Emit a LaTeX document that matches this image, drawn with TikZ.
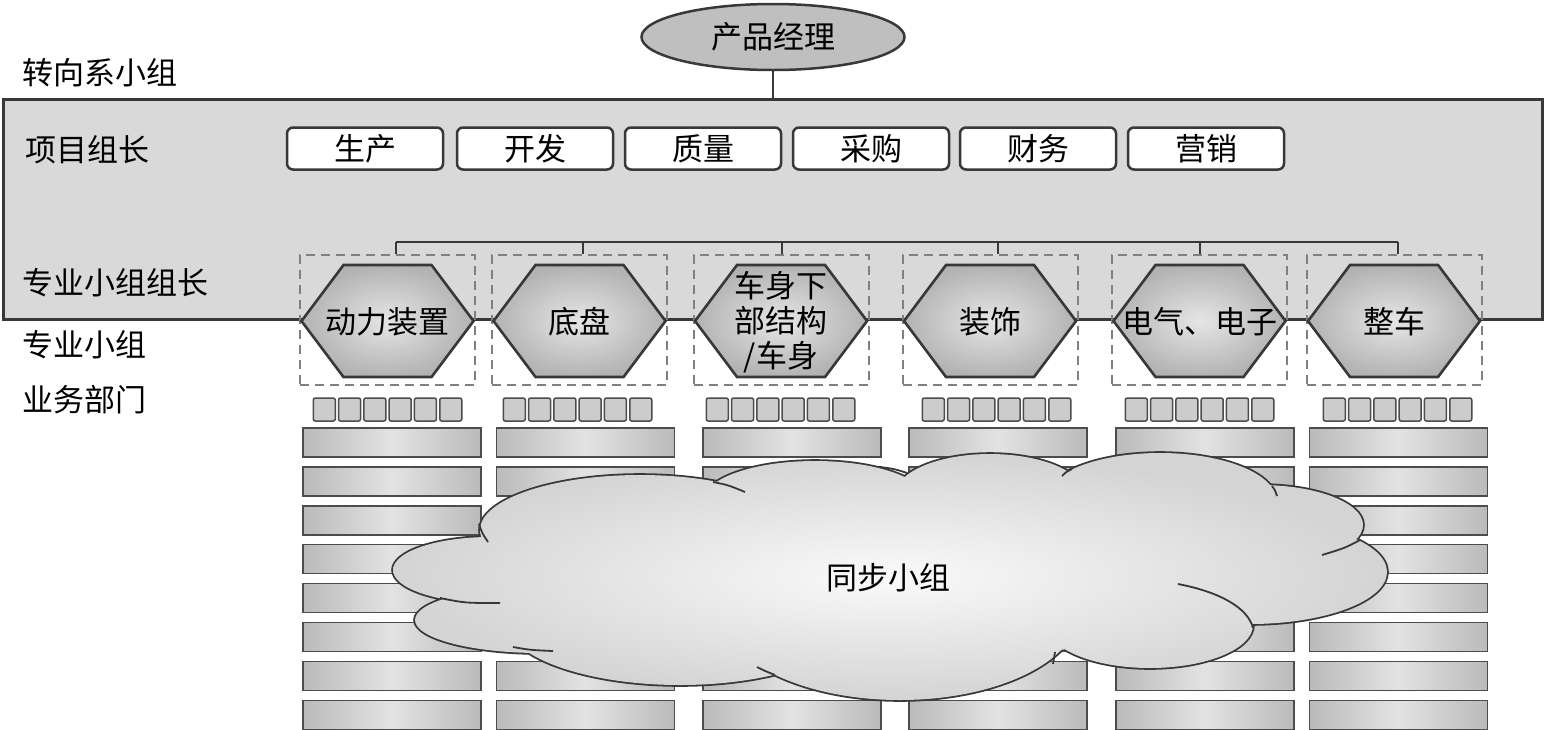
\documentclass[tikz,border=0pt]{standalone}
\usepackage{fontspec}
\newfontfamily\cjk{Noto Sans CJK SC}
\usetikzlibrary{shapes.geometric}
\definecolor{edge}{gray}{0.22}
\definecolor{dashc}{gray}{0.5}
\begin{document}
\begin{tikzpicture}[x=1pt,y=-1pt,
  txt/.style={font=\cjk\fontsize{31}{35}\selectfont, inner sep=0pt, align=center},
  lbl/.style={txt, anchor=west},
  conn/.style={draw=edge, line width=2pt},
  mainbox/.style={draw=edge, line width=3pt, fill=black!15, inner sep=0pt, anchor=north west},
  topbox/.style={txt, draw=edge, line width=2.5pt, fill=white, rounded corners=6pt, minimum width=156pt, minimum height=42pt},
  dbox/.style={draw=dashc, line width=2pt, dash pattern=on 9pt off 6pt, minimum width=175pt, minimum height=130pt, inner sep=0pt},
  hexa/.style={draw=edge, line width=2.6pt, inner color=black!10, outer color=black!30},
  sqbox/.style={draw=black!70, line width=1.5pt, fill=black!20, rounded corners=2pt, minimum width=22pt, minimum height=23pt, inner sep=0pt},
  barbox/.style={draw=black!70, line width=1.5pt, left color=black!27, right color=black!27, middle color=black!11, minimum width=178pt, minimum height=29pt, inner sep=0pt},
  cloudline/.style={draw=edge, line width=1.8pt}
]
\useasboundingbox (0,0) rectangle (1544,729);

% product manager
\node[txt, ellipse, draw=edge, line width=2.5pt, fill=black!25, minimum width=263pt, minimum height=66pt] (pm) at (773,37) {产品经理};

% main box
\node[mainbox, minimum width=1539pt, minimum height=220pt] (main) at (2,98) {};
\draw[conn] (pm.south) -- (pm.south |- main.north);

% left labels
\node[lbl] (l1) at (22,73) {转向系小组};
\node[lbl] (l2) at (25,150) {项目组长};
\node[lbl] (l3) at (22,283) {专业小组组长};
\node[lbl] (l4) at (22,345) {专业小组};
\node[lbl] (l5) at (22,400) {业务部门};

% top boxes
\foreach \x/\n/\t in {365/t1/生产, 535/t2/开发, 703/t3/质量, 871/t4/采购, 1038/t5/财务, 1206/t6/营销}
  \node[topbox] (\n) at (\x,148.5) {\t};

% dashed group boxes
\foreach \x/\n in {387.5/d1, 579.5/d2, 781/d3, 990/d4, 1199.5/d5, 1394/d6}
  \node[dbox] (\n) at (\x,320) {};

% bus connectors
\foreach \x/\n in {396/1, 583/2, 782/3, 998/4, 1200/5, 1398/6}
  \coordinate (b\n) at (\x,242);
\draw[conn] (b1) -- (b6);
\foreach \n in {1,...,6}
  \draw[conn] (b\n) -- (b\n |- d\n.north);

% hexagons
\foreach \x/\n/\t in {387.5/h1/{动力装置}, 579.5/h2/{底盘}, 781/h3/{车身下\\部结构\\/车身}, 990/h4/{装饰}, 1199.5/h5/{电气、电子}, 1394/h6/{整车}} {
  \path[hexa] ({\x-86},321) -- ({\x-44},265) -- ({\x+44},265) -- ({\x+86},321) -- ({\x+44},377) -- ({\x-44},377) -- cycle;
  \node[txt] (\n) at (\x,322) {\t};
}

% small squares
\foreach \g/\gx in {1/387.5, 2/577.5, 3/780.5, 4/996.5, 5/1199.5, 6/1397.5}
  \foreach \j in {0,...,5}
    \node[sqbox] (s\g-\j) at ({\gx+(\j-2.5)*25.3},409.5) {};

% bars
\foreach \g/\gx in {1/392, 2/585.5, 3/792, 4/998, 5/1205, 6/1398.5}
  \foreach \k in {0,...,7}
    \node[barbox] (r\g-\k) at (\gx,{442.5+38.9*\k}) {};

% cloud
\def\lobelist{640/530/160/55, 490/570/97/33, 540/620/125/33, 680/620/175/65, 900/610/180/90, 1150/625/103/43, 1250/572/137/52, 1260/525/103/40, 1160/500/116/47, 990/495/95/41, 815/500/111/39}
\path[draw=edge, line width=3.6pt] foreach \cx/\cy/\a/\b in \lobelist { (\cx,\cy) ellipse [x radius=\a pt, y radius=\b pt] };
\path[inner color=black!2, outer color=black!17] foreach \cx/\cy/\a/\b in \lobelist { (\cx,\cy) ellipse [x radius=\a pt, y radius=\b pt] } (890,575) ellipse [x radius=360pt, y radius=85pt];
\draw[cloudline] (479,524) .. controls (482,533) .. (488,542);
\draw[cloudline] (440,598) .. controls (465,603) .. (500,603);
\draw[cloudline] (513,647) .. controls (530,650) .. (553,651);
\draw[cloudline] (713,482) .. controls (728,485) .. (745,492);
\draw[cloudline] (880,467) .. controls (895,469) .. (907,473);
\draw[cloudline] (1062,476) .. controls (1066,472) .. (1072,469);
\draw[cloudline] (1272,486) .. controls (1275,490) .. (1277,496);
\draw[cloudline] (1360,540) .. controls (1345,548) .. (1322,555);
\draw[cloudline] (1178,584) .. controls (1220,592) and (1248,608) .. (1253,628);
\draw[cloudline] (1053,664) .. controls (1054,658) .. (1055,652);
\draw[cloudline] (757,667) .. controls (765,671) .. (775,675);
\node[txt] (sync) at (888,578) {同步小组};
\end{tikzpicture}
\end{document}
